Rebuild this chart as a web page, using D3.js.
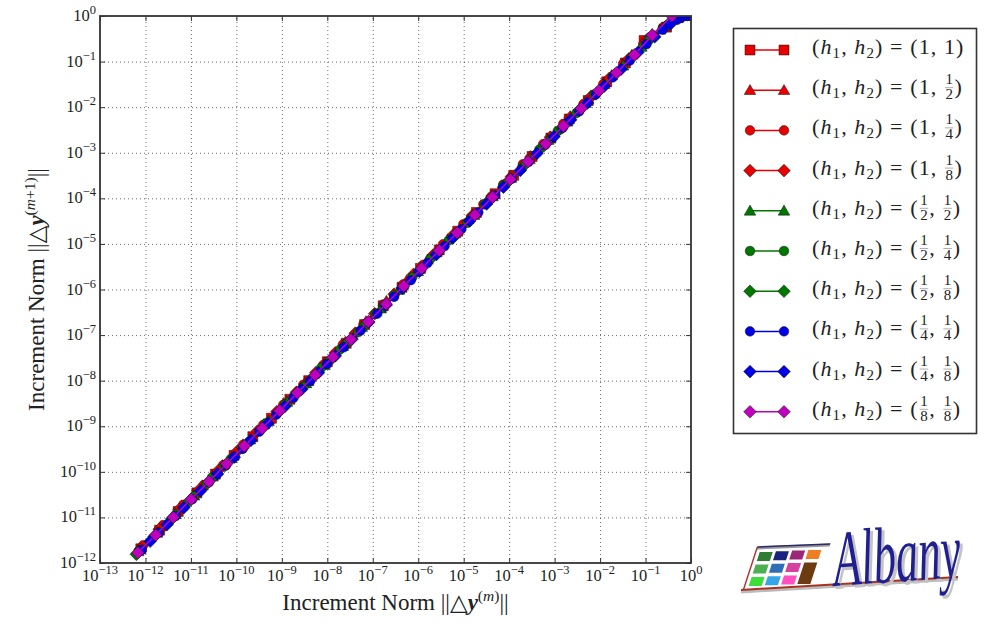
<!DOCTYPE html>
<html>
<head>
<meta charset="utf-8">
<script src="https://cdn.jsdelivr.net/npm/d3@7"></script>
<style>
body { margin: 0; background: #fff; }
svg { display: block; }
text { font-family: "Liberation Serif", "DejaVu Serif", serif; fill: #222; white-space: pre; }
</style>
</head>
<body>
<svg width="984" height="627"></svg>
<script>
// tick exponents
var xTickExps = [-13, -12, -11, -10, -9, -8, -7, -6, -5, -4, -3, -2, -1, 0];
var yTickExps = [-12, -11, -10, -9, -8, -7, -6, -5, -4, -3, -2, -1, 0];

// legend labels (h1, h2)
var h1Labels = ["1", "1", "1", "1", "1/2", "1/2", "1/2", "1/4", "1/4", "1/8"];
var h2Labels = ["1", "1/2", "1/4", "1/8", "1/2", "1/4", "1/8", "1/4", "1/8", "1/8"];

// increment norms per iteration, one array per run
var normsR1 = [7.9e-13, 2.05e-12, 5.25e-12, 1.35e-11, 3.45e-11, 8.9e-11, 2.3e-10, 5.9e-10, 1.5e-9, 3.9e-9, 1.0e-8, 2.6e-8, 6.6e-8, 1.7e-7, 4.4e-7, 1.12e-6, 2.9e-6, 7.4e-6, 1.9e-5, 4.9e-5, 1.26e-4, 3.2e-4, 8.3e-4, 2.1e-3, 5.5e-3, 1.4e-2, 3.6e-2, 9.3e-2, 0.29, 0.57, 1.0];
var normsR2 = [7.9e-13, 2.2e-12, 6.3e-12, 1.8e-11, 5.0e-11, 1.4e-10, 4.0e-10, 1.1e-9, 3.2e-9, 8.9e-9, 2.5e-8, 7.1e-8, 2.0e-7, 5.6e-7, 1.6e-6, 4.5e-6, 1.26e-5, 3.5e-5, 1.0e-4, 2.8e-4, 7.9e-4, 2.2e-3, 6.3e-3, 1.8e-2, 5.0e-2, 0.14, 0.40, 0.83, 1.0];
var normsR3 = [8.9e-13, 2.45e-12, 6.8e-12, 1.9e-11, 5.1e-11, 1.4e-10, 3.9e-10, 1.07e-9, 2.95e-9, 8.1e-9, 2.2e-8, 6.2e-8, 1.7e-7, 4.7e-7, 1.3e-6, 3.5e-6, 9.8e-6, 2.7e-5, 7.4e-5, 2.0e-4, 5.6e-4, 1.55e-3, 4.3e-3, 1.17e-2, 3.2e-2, 8.9e-2, 0.24, 0.56, 1.0];
var normsR4 = [7.6e-13, 2.0e-12, 5.5e-12, 1.5e-11, 4.0e-11, 1.07e-10, 2.9e-10, 7.8e-10, 2.1e-9, 5.6e-9, 1.5e-8, 4.1e-8, 1.1e-7, 2.95e-7, 7.9e-7, 2.15e-6, 5.75e-6, 1.55e-5, 4.2e-5, 1.12e-4, 3.0e-4, 8.1e-4, 2.2e-3, 5.9e-3, 1.6e-2, 4.3e-2, 0.115, 0.32, 0.66, 1.0];
var normsG1 = [6.9e-13, 1.8e-12, 4.6e-12, 1.17e-11, 3.0e-11, 7.8e-11, 2.0e-10, 5.1e-10, 1.3e-9, 3.4e-9, 8.7e-9, 2.2e-8, 5.75e-8, 1.5e-7, 3.8e-7, 9.8e-7, 2.5e-6, 6.5e-6, 1.7e-5, 4.3e-5, 1.1e-4, 2.8e-4, 7.2e-4, 1.9e-3, 4.8e-3, 1.23e-2, 3.2e-2, 8.1e-2, 0.21, 0.50, 0.89, 1.0];
var normsG2 = [7.4e-13, 1.9e-12, 4.7e-12, 1.17e-11, 2.9e-11, 7.5e-11, 1.9e-10, 4.6e-10, 1.18e-9, 3.0e-9, 7.3e-9, 1.9e-8, 4.8e-8, 1.16e-7, 2.95e-7, 7.4e-7, 1.85e-6, 4.7e-6, 1.2e-5, 2.9e-5, 7.4e-5, 1.9e-4, 4.6e-4, 1.17e-3, 3.0e-3, 7.4e-3, 1.9e-2, 4.7e-2, 0.117, 0.30, 0.63, 1.0];
var normsG3 = [6.3e-13, 1.55e-12, 3.8e-12, 9.3e-12, 2.3e-11, 5.6e-11, 1.38e-10, 3.4e-10, 8.3e-10, 2.0e-9, 5.0e-9, 1.23e-8, 3.0e-8, 7.4e-8, 1.8e-7, 4.5e-7, 1.1e-6, 2.7e-6, 6.6e-6, 1.6e-5, 4.0e-5, 9.8e-5, 2.4e-4, 5.9e-4, 1.45e-3, 3.5e-3, 8.7e-3, 2.1e-2, 5.2e-2, 0.13, 0.32, 0.66, 1.0];
var normsB1 = [8.3e-13, 1.95e-12, 4.6e-12, 1.07e-11, 2.5e-11, 5.9e-11, 1.38e-10, 3.2e-10, 7.6e-10, 1.8e-9, 4.2e-9, 9.8e-9, 2.3e-8, 5.4e-8, 1.26e-7, 2.95e-7, 6.9e-7, 1.6e-6, 3.8e-6, 8.9e-6, 2.1e-5, 4.9e-5, 1.15e-4, 2.7e-4, 6.3e-4, 1.5e-3, 3.5e-3, 8.1e-3, 1.9e-2, 4.5e-2, 0.105, 0.24, 0.50, 0.83, 1.0];
var normsB2 = [1.27e-12, 3.0e-12, 7.0e-12, 1.64e-11, 3.85e-11, 9.0e-11, 2.1e-10, 4.95e-10, 1.16e-9, 2.7e-9, 6.4e-9, 1.5e-8, 3.5e-8, 8.2e-8, 1.93e-7, 4.5e-7, 1.06e-6, 2.5e-6, 5.8e-6, 1.36e-5, 3.2e-5, 7.5e-5, 1.76e-4, 4.1e-4, 9.7e-4, 2.26e-3, 5.3e-3, 1.24e-2, 2.9e-2, 6.8e-2, 0.16, 0.35, 0.66, 1.0];
var normsM1 = [6.8e-13, 1.68e-12, 4.1e-12, 1.01e-11, 2.5e-11, 6.1e-11, 1.5e-10, 3.7e-10, 9.0e-10, 2.2e-9, 5.4e-9, 1.33e-8, 3.3e-8, 8.0e-8, 1.97e-7, 4.8e-7, 1.19e-6, 2.9e-6, 7.2e-6, 1.76e-5, 4.3e-5, 1.06e-4, 2.6e-4, 6.4e-4, 1.57e-3, 3.85e-3, 9.4e-3, 2.3e-2, 5.7e-2, 0.14, 0.38, 1.0];

var allNorms = [normsR1, normsR2, normsR3, normsR4, normsG1, normsG2, normsG3, normsB1, normsB2, normsM1];
var colors = ["#e80000", "#e80000", "#e80000", "#e80000", "#007800", "#007800", "#007800", "#0000e8", "#0000e8", "#bf00bf"];
var shapes = ["s", "^", "o", "D", "^", "o", "D", "o", "D", "D"];

var series = allNorms.map(function(n, i) {
    return { pts: d3.pairs(n), color: colors[i], shape: shapes[i], h1: h1Labels[i], h2: h2Labels[i] };
});

var svg = d3.select("svg");
var plotL = 100, plotR = 691, plotT = 16, plotB = 563;

var xScale = d3.scaleLog().domain([1e-13, 1]).range([plotL, plotR]);
var yScale = d3.scaleLog().domain([1e-12, 1]).range([plotB, plotT]);
var xTickVals = xTickExps.map(function(e) { return Math.pow(10, e); });
var yTickVals = yTickExps.map(function(e) { return Math.pow(10, e); });

function markerPath(shape) {
    if (shape == "s") return d3.symbol(d3.symbolSquare, 100)();
    if (shape == "^") return d3.symbol(d3.symbolTriangle, 58)();
    if (shape == "o") return d3.symbol(d3.symbolCircle, 72)();
    return d3.symbol(d3.symbolSquare, 80)();
}
function markerRot(shape) { return shape == "D" ? " rotate(45)" : (shape == "^" ? " translate(0,1)" : ""); }

// grid
var grid = svg.append("g").attr("class", "grid");
grid.append("g").attr("transform", "translate(0," + plotB + ")")
    .call(d3.axisBottom(xScale).tickValues(xTickVals.slice(1, -1)).tickSize(-(plotB - plotT)).tickFormat(""));
grid.append("g").attr("transform", "translate(" + plotL + ",0)")
    .call(d3.axisLeft(yScale).tickValues(yTickVals.slice(1, -1)).tickSize(-(plotR - plotL)).tickFormat(""));
grid.selectAll(".domain").remove();
grid.selectAll("line").attr("stroke", "#444").attr("stroke-width", 0.8).attr("stroke-dasharray", "1,3");

// series
svg.append("defs").append("clipPath").attr("id", "plotclip")
    .append("rect").attr("x", plotL).attr("y", plotT).attr("width", plotR - plotL).attr("height", plotB - plotT);

var plot = svg.append("g").attr("clip-path", "url(#plotclip)");
var line = d3.line().x(function(p) { return xScale(p[0]); }).y(function(p) { return yScale(p[1]); });

series.forEach(function(s) {
    var g = plot.append("g");
    g.append("path").attr("d", line(s.pts)).attr("fill", "none")
        .attr("stroke", s.color).attr("stroke-width", 1.5);
    g.selectAll(".mk").data(s.pts).enter().append("path")
        .attr("class", "mk")
        .attr("d", markerPath(s.shape))
        .attr("transform", function(p) { return "translate(" + xScale(p[0]) + "," + yScale(p[1]) + ")" + markerRot(s.shape); })
        .attr("fill", s.color).attr("stroke", "#111").attr("stroke-width", 0.5);
});

// ticks on all sides, pointing in
var axes = svg.append("g");
axes.append("g").attr("transform", "translate(0," + plotB + ")").call(d3.axisBottom(xScale).tickValues(xTickVals).tickSize(-5).tickFormat(""));
axes.append("g").attr("transform", "translate(0," + plotT + ")").call(d3.axisTop(xScale).tickValues(xTickVals).tickSize(-5).tickFormat(""));
axes.append("g").attr("transform", "translate(" + plotL + ",0)").call(d3.axisLeft(yScale).tickValues(yTickVals).tickSize(-5).tickFormat(""));
axes.append("g").attr("transform", "translate(" + plotR + ",0)").call(d3.axisRight(yScale).tickValues(yTickVals).tickSize(-5).tickFormat(""));
axes.selectAll(".domain").remove();
axes.selectAll("line").attr("stroke", "#333").attr("stroke-width", 1);

svg.append("rect").attr("x", plotL).attr("y", plotT).attr("width", plotR - plotL).attr("height", plotB - plotT)
    .attr("fill", "none").attr("stroke", "#333").attr("stroke-width", 1.8);

// tick labels
function expText(sel) {
    sel.append("tspan").text("10");
    sel.append("tspan").attr("dy", -7).attr("font-size", 12.5)
        .text(function(d) { var e = Math.round(Math.log10(d)); return e < 0 ? "\u2212" + (-e) : "" + e; });
}
svg.append("g").selectAll("text").data(xTickVals).enter().append("text")
    .attr("x", function(d) { return xScale(d); }).attr("y", plotB + 18)
    .attr("text-anchor", "middle").attr("font-size", 16.5).call(expText);
svg.append("g").selectAll("text").data(yTickVals).enter().append("text")
    .attr("x", plotL - 4).attr("y", function(d) { return yScale(d) + 5; })
    .attr("text-anchor", "end").attr("font-size", 16.5).call(expText);

// axis titles
function normTitle(t, sup) {
    t.append("tspan").text("Increment Norm ||\u25B3");
    t.append("tspan").attr("font-weight", "bold").attr("font-style", "italic").text("y");
    var s = t.append("tspan").attr("dy", -9).attr("font-size", 15.5);
    s.append("tspan").text("(");
    s.append("tspan").attr("font-style", "italic").text("m");
    s.append("tspan").text(sup + ")");
    t.append("tspan").attr("dy", 9).text("||");
}
svg.append("text").attr("x", (plotL + plotR) / 2).attr("y", 610).attr("text-anchor", "middle")
    .attr("font-size", 23).call(normTitle, "");
svg.append("text").attr("transform", "translate(44," + (plotT + plotB) / 2 + ") rotate(-90)")
    .attr("text-anchor", "middle").attr("font-size", 23).call(normTitle, "+1");

// legend
var legend = svg.append("g");
legend.append("rect").attr("x", 733.5).attr("y", 28.5).attr("width", 243).attr("height", 405)
    .attr("fill", "#fff").attr("stroke", "#333").attr("stroke-width", 1.6);

var legendFont = 22, legendSpacing = 1.1;
function putText(g, str, x, by) {
    var t = g.append("text").attr("x", x).attr("y", by).attr("font-size", legendFont)
        .attr("letter-spacing", legendSpacing).text(str);
    return x + t.node().getComputedTextLength();
}
function putValue(g, lab, x, by) {
    if (lab.indexOf("/") < 0) return putText(g, lab, x, by);
    var parts = lab.split("/");
    var n = g.append("text").attr("y", by - 10).attr("font-size", 15).text(parts[0]);
    var d = g.append("text").attr("y", by + 5).attr("font-size", 15).text(parts[1]);
    var w = Math.max(n.node().getComputedTextLength(), d.node().getComputedTextLength());
    n.attr("x", x + 1.5 + w / 2).attr("text-anchor", "middle");
    d.attr("x", x + 1.5 + w / 2).attr("text-anchor", "middle");
    g.append("line").attr("x1", x + 1).attr("x2", x + w + 2).attr("y1", by - 6.5).attr("y2", by - 6.5)
        .attr("stroke", "#777").attr("stroke-width", 0.6);
    return x + w + 3;
}

series.forEach(function(s, i) {
    var ry = 50 + i * 40.2;
    var g = legend.append("g").attr("transform", "translate(0," + ry + ")");
    g.append("line").attr("x1", 750).attr("x2", 784).attr("y1", 0).attr("y2", 0)
        .attr("stroke", s.color).attr("stroke-width", 1.5);
    g.selectAll(".lm").data([750, 784]).enter().append("path")
        .attr("d", markerPath(s.shape))
        .attr("transform", function(x) { return "translate(" + x + ",0)" + markerRot(s.shape); })
        .attr("fill", s.color).attr("stroke", "#111").attr("stroke-width", 0.5);

    var by = 4;
    var t = g.append("text").attr("x", 812).attr("y", by).attr("font-size", legendFont)
        .attr("letter-spacing", legendSpacing);
    t.append("tspan").text("(");
    t.append("tspan").attr("font-style", "italic").text("h");
    t.append("tspan").attr("font-size", 15).attr("dy", 4).text("1");
    t.append("tspan").attr("dy", -4).text(", ");
    t.append("tspan").attr("font-style", "italic").text("h");
    t.append("tspan").attr("font-size", 15).attr("dy", 4).text("2");
    t.append("tspan").attr("dy", -4).text(") = (");
    var cx = 812 + t.node().getComputedTextLength();
    cx = putValue(g, s.h1, cx, by);
    cx = putText(g, ", ", cx, by);
    cx = putValue(g, s.h2, cx, by);
    putText(g, ")", cx, by);
});

// Albany logo
var logo = svg.append("g");
var cellColors = [
    ["#2e7d32", "#1a237e", "#9c2779", "#ef7d22"],
    ["#4caf50", "#2f6db5", "#d6409f", "#6d3b12"],
    ["#3ddc3d", "#35a7e8", "#ff4fc0", "#6d3b12"]
];
var cells = logo.append("g").attr("transform", "translate(757,548) skewX(-18)");
cells.append("path").attr("d", "M0,0 L72,-3").attr("stroke", "#999").attr("stroke-width", 3);
cells.append("path").attr("d", "M0,-1 L72,-4").attr("stroke", "#2a2a6a").attr("stroke-width", 1.5);
cells.append("path").attr("d", "M0,-1 L0,41").attr("stroke", "#a33").attr("stroke-width", 1.5);
cellColors.forEach(function(row, r) {
    row.forEach(function(c, k) {
        if (k == 3 && r == 2) return;
        cells.append("rect").attr("x", 4 + k * 16).attr("y", 4 + r * 12.5 - k * 0.7)
            .attr("width", 13).attr("height", (k == 3 && r == 1) ? 21.5 : 9).attr("fill", c);
    });
});
logo.append("path").attr("d", "M741,592 L958,579").attr("stroke", "#bbb").attr("stroke-width", 3);
logo.append("path").attr("d", "M741,590 L958,577").attr("stroke", "#a8321e").attr("stroke-width", 2);
logo.append("text").attr("transform", "translate(838,589) rotate(-4) scale(0.9,1.6)")
    .attr("font-size", 50).attr("font-style", "italic").style("fill", "#c4c4c4").text("Albany");
logo.append("text").attr("transform", "translate(835,586) rotate(-4) scale(0.9,1.6)")
    .attr("font-size", 50).attr("font-style", "italic").style("fill", "#1f1f8f").text("Albany");
</script>
</body>
</html>
